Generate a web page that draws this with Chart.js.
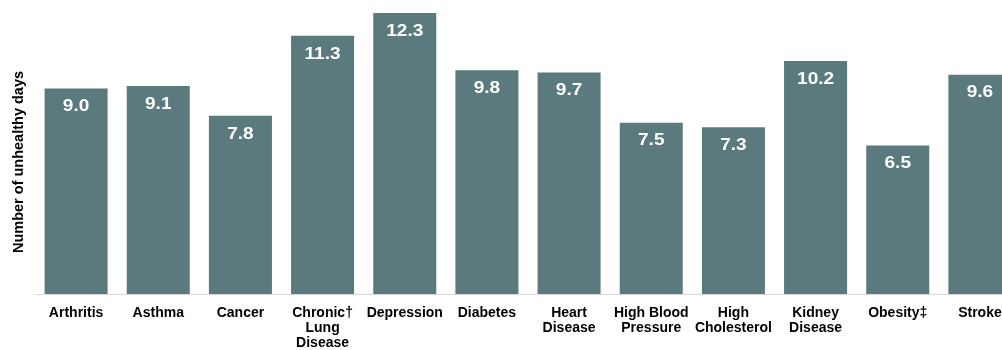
<!DOCTYPE html>
<html>
<head>
<meta charset="utf-8">
<script src="https://cdn.jsdelivr.net/npm/chart.js@4"></script>
<style>
  html, body { margin: 0; padding: 0; background: #fff; overflow: hidden; }
  #wrap { position: relative; width: 1021px; height: 350px; }
</style>
</head>
<body>
<div id="wrap"><canvas id="c"></canvas></div>
<script>
const categories = [
  "Arthritis", "Asthma", "Cancer", ["Chronic†", "Lung", "Disease"], "Depression", "Diabetes",
  ["Heart", "Disease"], ["High Blood", "Pressure"], ["High", "Cholesterol"], ["Kidney", "Disease"],
  "Obesity‡", "Stroke"
];
const unhealthyDays = [9.0, 9.1, 7.8, 11.3, 12.3, 9.8, 9.7, 7.5, 7.3, 10.2, 6.5, 9.6];
const yAxisTitle = "Number of unhealthy days";

const valueLabels = {
  id: 'valueLabels',
  afterDatasetsDraw(chart) {
    const ctx = chart.ctx;
    const meta = chart.getDatasetMeta(0);
    ctx.fillStyle = '#ffffff';
    ctx.font = 'bold 17px "Liberation Sans", Arial, sans-serif';
    ctx.textAlign = 'center';
    ctx.textBaseline = 'middle';
    meta.data.forEach((bar, i) => {
      ctx.save();
      ctx.translate(bar.x, bar.y + 18);
      ctx.scale(1.12, 1);
      ctx.fillText(unhealthyDays[i].toFixed(1), 0, 0);
      ctx.restore();
    });
  }
};

const yTitle = {
  id: 'yTitle',
  afterDraw(chart) {
    const ctx = chart.ctx;
    ctx.save();
    ctx.translate(19, 162);
    ctx.rotate(-Math.PI / 2);
    ctx.fillStyle = '#000000';
    ctx.font = 'bold 14.5px "Liberation Sans", Arial, sans-serif';
    ctx.textAlign = 'center';
    ctx.textBaseline = 'middle';
    ctx.fillText(yAxisTitle, 0, 0);
    ctx.restore();
  }
};

new Chart(document.getElementById('c'), {
  type: 'bar',
  data: {
    labels: categories,
    datasets: [{
      data: unhealthyDays,
      backgroundColor: '#5b7a7e',
      borderWidth: 0,
      categoryPercentage: 1.0,
      barPercentage: 0.767
    }]
  },
  options: {
    responsive: true,
    maintainAspectRatio: false,
    animation: false,
    events: [],
    layout: { padding: { left: 35, right: 0, top: 0, bottom: 0 } },
    plugins: { legend: { display: false }, tooltip: { enabled: false } },
    scales: {
      x: {
        grid: { display: false },
        border: { display: true, color: '#d9d9d9', width: 1 },
        ticks: {
          color: '#000000',
          font: { family: '"Liberation Sans", Arial, sans-serif', size: 14, weight: 'bold', lineHeight: 1.1 },
          padding: 3,
          maxRotation: 0,
          autoSkip: false
        },
        afterFit(scale) { scale.height = 56; }
      },
      y: {
        display: false,
        min: 0,
        max: 12.87
      }
    }
  },
  plugins: [valueLabels, yTitle]
});
</script>
</body>
</html>
